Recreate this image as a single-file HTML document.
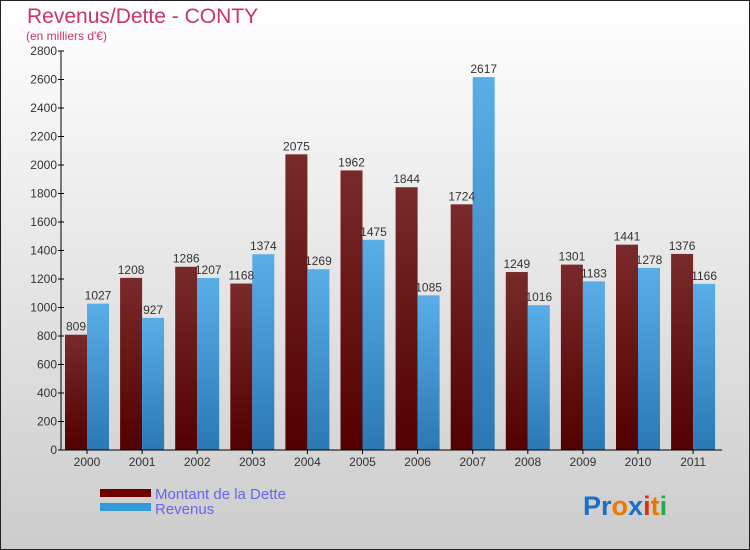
<!DOCTYPE html>
<html><head><meta charset="utf-8"><style>
body{margin:0;width:750px;height:550px;overflow:hidden}
svg{display:block;font-family:"Liberation Sans",sans-serif}
</style></head><body>
<svg width="750" height="550">
<defs>
<linearGradient id="bg" x1="0" y1="0" x2="0" y2="1"><stop offset="0" stop-color="#ffffff"/><stop offset="1" stop-color="#cccccc"/></linearGradient>
<linearGradient id="gd" x1="0" y1="0" x2="0" y2="1"><stop offset="0" stop-color="#7a2a2a"/><stop offset="1" stop-color="#520000"/></linearGradient>
<linearGradient id="gr" x1="0" y1="0" x2="0" y2="1"><stop offset="0" stop-color="#5aaee8"/><stop offset="1" stop-color="#2a78b4"/></linearGradient>
</defs>
<rect x="0.5" y="0.5" width="749" height="549" fill="url(#bg)" stroke="#222"/>
<text x="27" y="23" font-size="21" fill="#cc3366">Revenus/Dette - CONTY</text>
<text x="26" y="40" font-size="12" fill="#cc3366">(en milliers d'€)</text>
<g id="plot"></g>
<rect x="100" y="489" width="51" height="8" fill="#6e0000"/>
<rect x="100" y="503" width="51" height="8" fill="#3399dd"/>
<text x="155" y="499" font-size="15" fill="#6666ee">Montant de la Dette</text>
<text x="155" y="514" font-size="15" fill="#6666ee">Revenus</text>
<text x="583" y="515" font-size="27" font-weight="bold"><tspan fill="#1a6fc8">Pr</tspan><tspan fill="#ee7700">o</tspan><tspan fill="#1a6fc8">x</tspan><tspan fill="#dd3300">i</tspan><tspan fill="#ee7700">t</tspan><tspan fill="#22aa44">i</tspan></text>
</svg>
<script>
const years=["2000","2001","2002","2003","2004","2005","2006","2007","2008","2009","2010","2011"];
const dette=[809,1208,1286,1168,2075,1962,1844,1724,1249,1301,1441,1376];
const revenus=[1027,927,1207,1374,1269,1475,1085,2617,1016,1183,1278,1166];
const yTicks=[0,200,400,600,800,1000,1200,1400,1600,1800,2000,2200,2400,2600,2800];
const NS="http://www.w3.org/2000/svg";
const g=document.getElementById('plot');
const y0=450,yTop=51,yMax=2800,axX=61,step=55.1;
const Y=v=>y0-(y0-yTop)*v/yMax;
const X=i=>axX+26+i*step;
function el(t,a){const e=document.createElementNS(NS,t);for(const k in a)e.setAttribute(k,a[k]);g.appendChild(e);return e;}
for(const v of yTicks){
 const t=el('line',{x1:axX-3,x2:axX+3,y1:Y(v),y2:Y(v),stroke:'#000'});
 
 
 const l=el('text',{x:axX-4,y:Y(v)+4,'font-size':12,'text-anchor':'end',fill:'#333'});
 l.textContent=v;
 
 
}
years.forEach((yr,i)=>{
 const cx=X(i);
 const b1=el('rect',{x:cx-22,y:Y(dette[i]),width:22,height:y0-Y(dette[i]),fill:'url(#gd)'});
 
 
 const b2=el('rect',{x:cx,y:Y(revenus[i]),width:22,height:y0-Y(revenus[i]),fill:'url(#gr)'});
 
 
 const t1=el('text',{x:cx-11,y:Y(dette[i])-4,'font-size':12,'text-anchor':'middle',fill:'#333'});
 t1.textContent=dette[i];
 
 
 const t2=el('text',{x:cx+11,y:Y(revenus[i])-4,'font-size':12,'text-anchor':'middle',fill:'#333'});
 t2.textContent=revenus[i];
 
 
 const tk=el('line',{x1:cx,x2:cx,y1:y0,y2:y0+4,stroke:'#000'});
 
 
 const xl=el('text',{x:cx,y:y0+16,'font-size':12,'text-anchor':'middle',fill:'#333'});
 xl.textContent=yr;
 
 
});
const ya=el('line',{x1:axX,x2:axX,y1:yTop,y2:y0,stroke:'#000'});


const xa=el('line',{x1:axX,x2:722,y1:y0,y2:y0,stroke:'#000'});


</script>
</body></html>
